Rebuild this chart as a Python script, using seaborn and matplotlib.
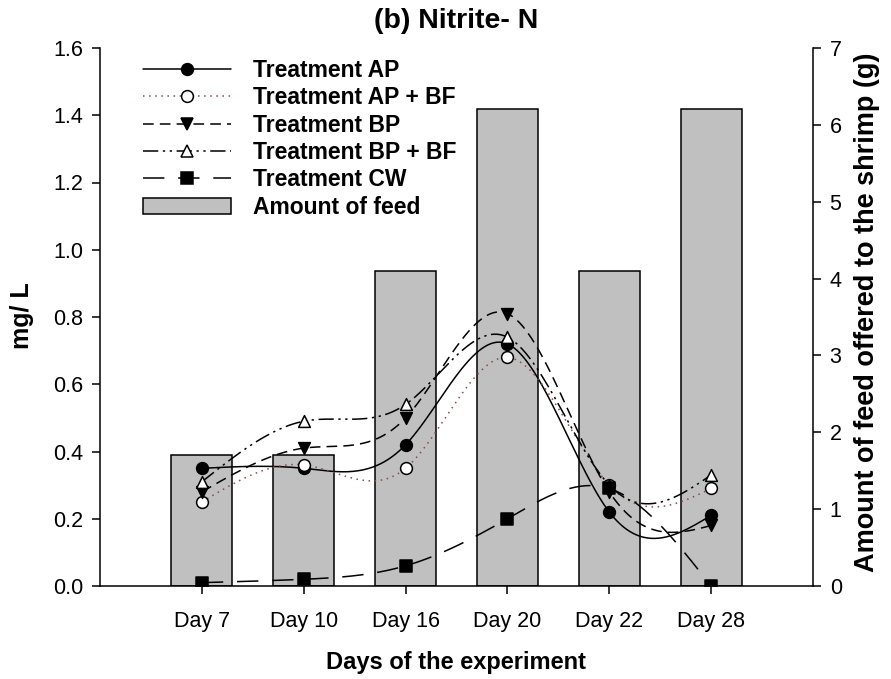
import numpy as np
import pandas as pd
import matplotlib
matplotlib.use("Agg")
import matplotlib.pyplot as plt
import seaborn as sns
from matplotlib.lines import Line2D
from matplotlib.patches import Patch

# ---- data ----
days = ["Day 7", "Day 10", "Day 16", "Day 20", "Day 22", "Day 28"]
feed = [1.7, 1.7, 4.1, 6.2, 4.1, 6.2]
ap = [0.35, 0.35, 0.42, 0.72, 0.22, 0.21]
ap_bf = [0.25, 0.36, 0.35, 0.68, 0.30, 0.29]
bp = [0.28, 0.41, 0.50, 0.81, 0.28, 0.18]
bp_bf = [0.31, 0.49, 0.54, 0.74, 0.30, 0.33]
cw = [0.01, 0.02, 0.06, 0.20, 0.29, 0.00]
series_names = ["Treatment AP", "Treatment AP + BF", "Treatment BP",
                "Treatment BP + BF", "Treatment CW"]
y_ticks = [0.0, 0.2, 0.4, 0.6, 0.8, 1.0, 1.2, 1.4, 1.6]
y2_ticks = [0, 1, 2, 3, 4, 5, 6, 7]


def natural_spline(x, y, xs):
    x = np.asarray(x, float)
    y = np.asarray(y, float)
    n = len(x)
    h = np.diff(x)
    A = np.zeros((n, n))
    b = np.zeros(n)
    A[0, 0] = 1
    A[-1, -1] = 1
    for i in range(1, n - 1):
        A[i, i - 1] = h[i - 1]
        A[i, i] = 2 * (h[i - 1] + h[i])
        A[i, i + 1] = h[i]
        b[i] = 6 * ((y[i + 1] - y[i]) / h[i] - (y[i] - y[i - 1]) / h[i - 1])
    M = np.linalg.solve(A, b)
    out = np.empty_like(xs)
    for k, xv in enumerate(xs):
        i = min(max(np.searchsorted(x, xv) - 1, 0), n - 2)
        t1 = x[i + 1] - xv
        t0 = xv - x[i]
        out[k] = (M[i] * t1 ** 3 / (6 * h[i]) + M[i + 1] * t0 ** 3 / (6 * h[i])
                  + (y[i] / h[i] - M[i] * h[i] / 6) * t1
                  + (y[i + 1] / h[i] - M[i + 1] * h[i] / 6) * t0)
    return out


sns.set_theme(style="ticks")
plt.rcParams["font.family"] = ["Liberation Sans", "DejaVu Sans"]
plt.rcParams["text.color"] = "black"
plt.rcParams["axes.labelcolor"] = "black"
plt.rcParams["xtick.color"] = "black"
plt.rcParams["ytick.color"] = "black"
plt.rcParams["axes.edgecolor"] = "black"

W, H = 891, 679
fig = plt.figure(figsize=(W / 100, H / 100), dpi=100)
ax = fig.add_axes([100 / W, 1 - 586 / H, 713 / W, 538 / H])
ax2 = ax.twinx()

# bars on the right axis
sns.barplot(x=days, y=feed, ax=ax2, color="#c0c0c0", edgecolor="black",
            linewidth=1.1, width=0.6, saturation=1, zorder=1)
ax2.set_ylim(0, 7)
ax2.set_yticks(y2_ticks)
ax2.set_yticklabels([str(v) for v in y2_ticks])
ax2.set_ylabel("")
ax2.set_xlabel("")

ax.set_zorder(ax2.get_zorder() + 1)
ax.patch.set_visible(False)

pos = np.arange(len(days))
xs = np.linspace(0, len(days) - 1, 400)

styles = [
    dict(vals=ap, ls="-", color="black", marker="o", mfc="black"),
    dict(vals=ap_bf, ls=(0, (1, 3)), color="#8b4a4a", marker="o", mfc="white"),
    dict(vals=bp, ls=(0, (7, 4)), color="black", marker="v", mfc="black"),
    dict(vals=bp_bf, ls=(0, (10, 3, 1.5, 3, 1.5, 3)), color="black", marker="^", mfc="white"),
    dict(vals=cw, ls=(0, (14, 9)), color="black", marker="s", mfc="black"),
]

handles = []
for name, st in zip(series_names, styles):
    ys = natural_spline(pos, st["vals"], xs)
    sns.lineplot(x=xs, y=ys, ax=ax, color=st["color"], linewidth=1.1,
                 linestyle=st["ls"], sort=False, zorder=3)
    sns.scatterplot(x=pos, y=st["vals"], ax=ax, marker=st["marker"], s=72,
                    color=st["mfc"], edgecolor="black", linewidth=1.1, zorder=4)
    handles.append(Line2D([], [], color=st["color"], linestyle=st["ls"], linewidth=1.1,
                          marker=st["marker"], markersize=8.5, markerfacecolor=st["mfc"],
                          markeredgecolor="black", markeredgewidth=1.1))
handles.append(Patch(facecolor="#c0c0c0", edgecolor="black", linewidth=1.1))
labels = series_names + ["Amount of feed"]

ax.set_xlim(-1, 6)
ax.set_ylim(0, 1.6)
ax.set_xticks(pos)
ax.set_xticklabels(days)
ax.set_yticks(y_ticks)
ax.set_yticklabels([f"{v:.1f}" for v in y_ticks])
ax.set_xlabel("")
ax.set_ylabel("")

for a in (ax, ax2):
    a.spines["top"].set_visible(False)
    for s in a.spines.values():
        s.set_linewidth(1.1)
        s.set_color("black")
ax.spines["right"].set_visible(False)
ax2.spines["left"].set_visible(False)
ax2.spines["bottom"].set_visible(False)

ax.tick_params(axis="both", direction="out", length=6, width=1.1, colors="black",
               labelsize=15.5, pad=6)
ax2.tick_params(axis="y", direction="out", length=6, width=1.1, colors="black",
                labelsize=15.5, pad=6)
ax.tick_params(axis="x", pad=12)

leg = ax.legend(handles, labels, loc="upper left",
                bbox_to_anchor=(143 / W, 1 - 59 / H), bbox_transform=fig.transFigure,
                frameon=False, borderpad=0, borderaxespad=0, handlelength=3.85,
                handletextpad=0.95, labelspacing=0.19,
                prop={"weight": "bold", "size": 16.5})

fig.text(456 / W, 1 - 21 / H, "(b) Nitrite- N", ha="center", va="center",
         fontsize=20.5, fontweight="bold")
fig.text(456 / W, 1 - 662 / H, "Days of the experiment", ha="center", va="center",
         fontsize=17, fontweight="bold")
fig.text(22 / W, 1 - 316 / H, "mg/ L", ha="center", va="center", rotation=90,
         fontsize=18, fontweight="bold")
fig.text(867 / W, 1 - 312 / H, "Amount of feed offered to the shrimp (g)", ha="center",
         va="center", rotation=90, fontsize=19.5, fontweight="bold")

fig.savefig("out.png", dpi=100)
